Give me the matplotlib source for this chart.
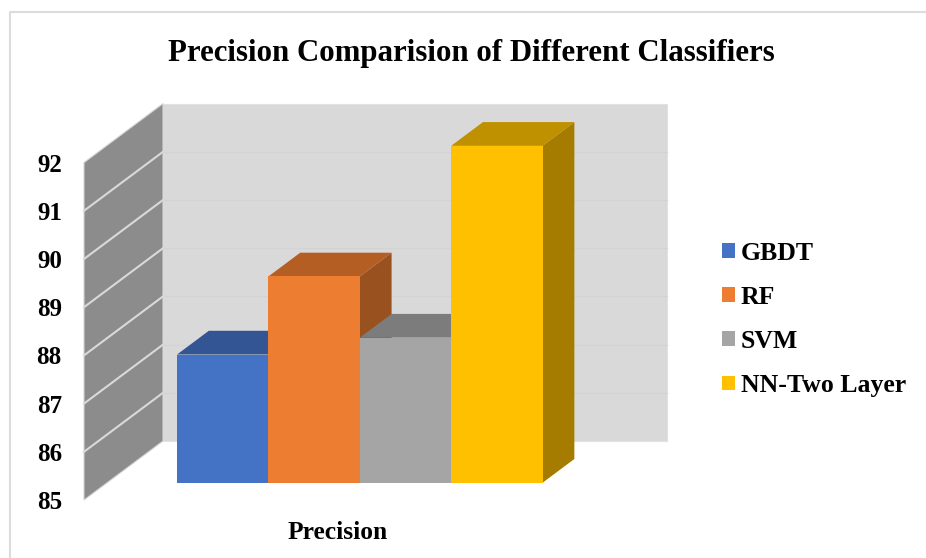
import matplotlib
matplotlib.use('Agg')
import matplotlib.pyplot as plt
from matplotlib.lines import Line2D
from matplotlib.patches import Patch

plt.rcParams['font.family'] = 'Liberation Serif'
plt.rcParams['font.weight'] = 'bold'

classifiers = ['GBDT', 'RF', 'SVM', 'NN-Two Layer']
precision = [87.66, 89.28, 88.01, 91.99]
y_ticks = [85, 86, 87, 88, 89, 90, 91, 92]
group_label = 'Precision'
title = 'Precision Comparision of Different Classifiers'

front_colors = ['#4472C4', '#ED7D31', '#A5A5A5', '#FFC000']
top_colors = ['#335593', '#B55E24', '#7C7C7C', '#BF9000']
side_colors = ['#29457A', '#9A5120', '#6B6B6B', '#A67C00']

W, H = 926, 558
fig = plt.figure(figsize=(W/100, H/100), dpi=100)

# axes rectangle is the front plane of the chart box
left, right, bottom, top = 84, 588, 500, 162.6
ax = fig.add_axes([left/W, 1-bottom/H, (right-left)/W, (bottom-top)/H])
x_min, x_max = -1.265, 4.25
ax.set_xlim(x_min, x_max)
ax.set_ylim(85, 92)

# oblique depth: data units gained going from front to back of the box
depth_x = 79/((right-left)/(x_max-x_min))
depth_y = 59/((bottom-top)/7)
bar_front, bar_back = 0.293, 0.695

def project(x, v, d):
    return x + d*depth_x, v + d*depth_y

def face(points, color, z, edge='none'):
    xs, ys = zip(*[project(*p) for p in points])
    ax.fill(xs, ys, facecolor=color, edgecolor=edge, lw=0.8, clip_on=False, zorder=z)

# back wall, side wall
face([(x_min, 85, 1), (x_max, 85, 1), (x_max, 92, 1), (x_min, 92, 1)], '#D9D9D9', 1, '#E2E2E2')
face([(x_min, 85, 0), (x_min, 85, 1), (x_min, 92, 1), (x_min, 92, 0)], '#8C8C8C', 1, '#D4D4D4')

for t in y_ticks[1:-1]:
    bx, by = project(x_min, t, 1)
    ex, ey = project(x_max, t, 1)
    ax.plot([bx, ex], [by, ey], color='#D3D3D3', lw=0.8, clip_on=False, zorder=2)
    fx, fy = project(x_min, t, 0)
    ax.plot([fx, bx], [fy, by], color='#D9D9D9', lw=1.5, clip_on=False, zorder=2)

# bars, left to right so each one overlaps the previous
for i, v in enumerate(precision):
    z = 3 + i
    l, r = i - 0.5, i + 0.5
    face([(r, 85, bar_front), (r, 85, bar_back), (r, v, bar_back), (r, v, bar_front)], side_colors[i], z)
    face([(l, v, bar_front), (r, v, bar_front), (r, v, bar_back), (l, v, bar_back)], top_colors[i], z)
    bx, by = project(i, 85, bar_front)
    ax.bar(bx, v-85, width=1, bottom=by, color=front_colors[i], zorder=z, clip_on=False)

for s in ax.spines.values():
    s.set_visible(False)
ax.patch.set_visible(False)
ax.set_yticks(y_ticks)
ax.set_yticklabels(y_ticks, fontsize=18)
ax.set_xticks([(x_min + x_max)/2 + 0.015])
ax.set_xticklabels([group_label], fontsize=18.4)
ax.tick_params(axis='y', length=0, pad=16)
ax.tick_params(axis='x', length=0, pad=15)

fig.text(471/W, 1-53/H, title, ha='center', va='center', fontsize=22.2)

handles = [Patch(facecolor=c, label=n) for c, n in zip(front_colors, classifiers)]
fig.legend(handles=handles, loc='upper left', bbox_to_anchor=(722/W, 1-241.5/H), frameon=False,
           fontsize=18.5, handlelength=0.51, handleheight=0.51, handletextpad=0.23,
           labelspacing=0.825, borderpad=0, borderaxespad=0)

# outer chart border, runs off the right and bottom edges
fig.add_artist(Line2D([9.5/W, 9.5/W, 1], [0, 1-11.5/H, 1-11.5/H], color='#DCDCDC', lw=1.5))

fig.savefig('out.png', dpi=100)
